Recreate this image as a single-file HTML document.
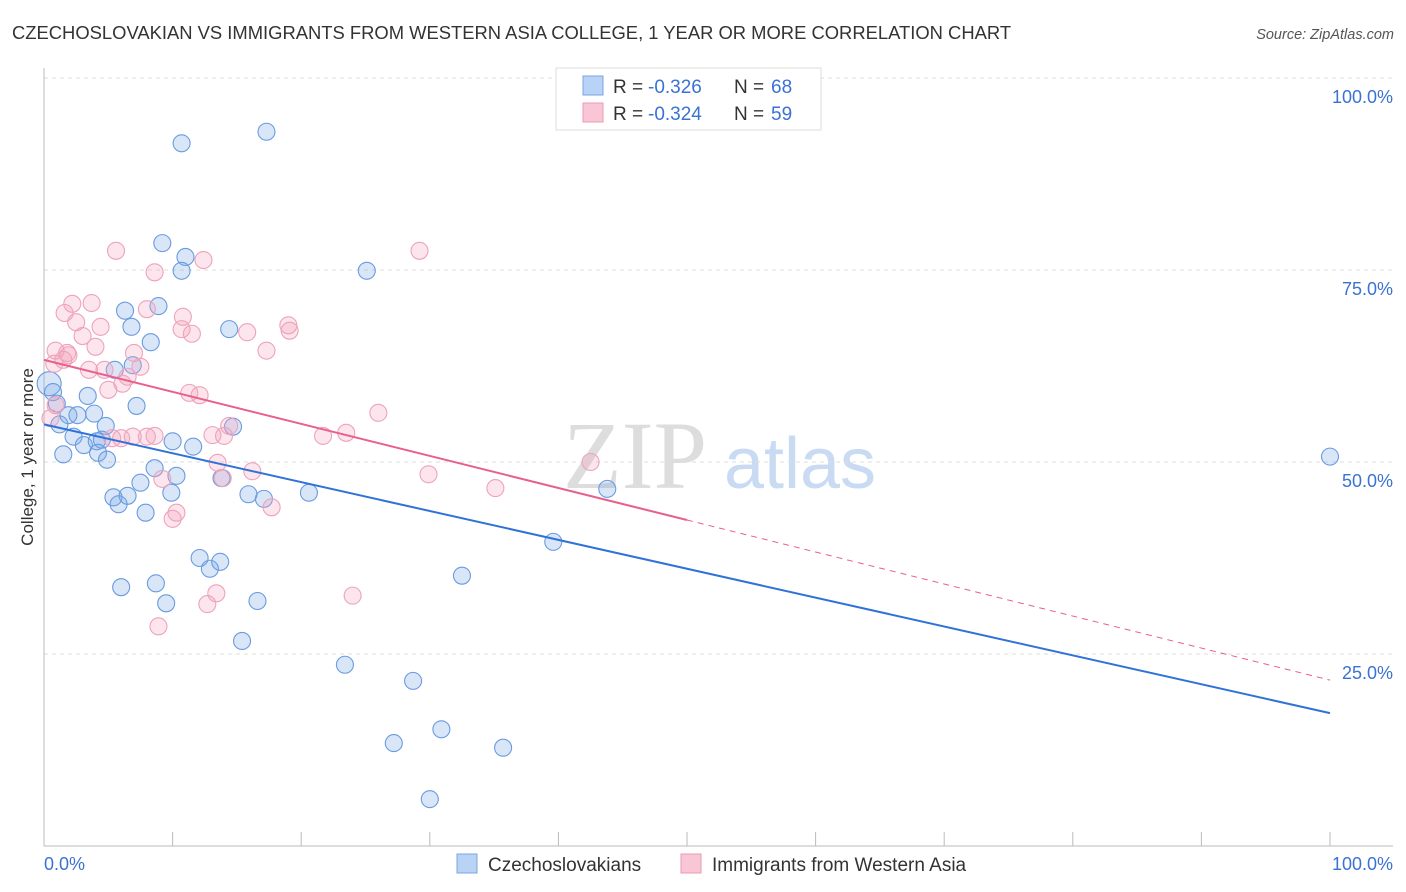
<!DOCTYPE html>
<html><head><meta charset="utf-8"><style>
body{margin:0;background:#fff;font-family:"Liberation Sans",sans-serif}
svg{display:block}
</style></head><body>
<svg id="chart" width="1406" height="892">
<text x="12" y="39" font-size="18.4" fill="#333">CZECHOSLOVAKIAN VS IMMIGRANTS FROM WESTERN ASIA COLLEGE, 1 YEAR OR MORE CORRELATION CHART</text>
<text x="1394" y="39" font-size="14.5" fill="#555" font-style="italic" text-anchor="end">Source: ZipAtlas.com</text>
<text x="635" y="488" font-size="96" fill="#ddd" font-family="Liberation Serif,serif" text-anchor="middle">ZIP</text>
<text x="800" y="488" font-size="72" fill="#c9daf3" text-anchor="middle">atlas</text>
<g id="grid"></g>
<g id="axes"></g>
<g id="marks"></g>
<text transform="translate(33,457) rotate(-90)" font-size="17" fill="#333" text-anchor="middle">College, 1 year or more</text>
<g>
<rect x="556" y="68" width="265" height="62" fill="#fff" stroke="#ddd"/>
<rect x="583" y="76" width="20" height="19" fill="#b8d3f5" stroke="#7aa6e2"/>
<rect x="583" y="103" width="20" height="19" fill="#f9c6d6" stroke="#ec9ab4"/>
<text x="613" y="93" font-size="19" fill="#333">R =</text>
<text x="648" y="93" font-size="19" fill="#3a72d4">-0.326</text>
<text x="734" y="93" font-size="19" fill="#333">N =</text>
<text x="771" y="93" font-size="19" fill="#3a72d4">68</text>
<text x="613" y="120" font-size="19" fill="#333">R =</text>
<text x="648" y="120" font-size="19" fill="#3a72d4">-0.324</text>
<text x="734" y="120" font-size="19" fill="#333">N =</text>
<text x="771" y="120" font-size="19" fill="#3a72d4">59</text>
</g>
<g>
<rect x="457" y="854" width="20" height="19" fill="#b8d3f5" stroke="#7aa6e2"/>
<text x="488" y="871" font-size="19" fill="#333">Czechoslovakians</text>
<rect x="681" y="854" width="20" height="19" fill="#f9c6d6" stroke="#ec9ab4"/>
<text x="712" y="871" font-size="19" fill="#333">Immigrants from Western Asia</text>
</g>
</svg>
<script>
const blueX=[10.7,17.3,9.2,11.0,10.7,25.1,6.3,8.9,6.8,14.4,8.3,5.5,6.9,0.4,0.7,1.0,3.4,7.2,1.9,2.6,3.9,1.2,2.3,4.8,14.7,3.1,4.1,4.5,10.0,1.5,4.2,4.9,11.6,8.6,10.3,13.8,7.5,5.4,6.5,9.9,15.9,17.1,20.6,5.8,7.9,43.8,39.6,12.1,12.9,13.7,6.0,8.7,9.5,16.6,32.5,15.4,23.4,28.7,27.2,30.9,35.7,30.0,100.0];
const blueY=[91.5,93.0,78.5,76.7,74.9,74.9,69.7,70.3,67.6,67.3,65.6,62.0,62.6,60.2,59.1,57.6,58.6,57.3,56.1,56.1,56.3,54.9,53.3,54.7,54.6,52.2,52.7,52.9,52.7,51.0,51.2,50.3,52.0,49.2,48.2,47.9,47.3,45.4,45.6,46.0,45.8,45.2,46.0,44.5,43.4,46.5,39.6,37.5,36.1,37.0,33.7,34.2,31.6,31.9,35.2,26.7,23.6,21.5,13.4,15.2,12.8,6.1,50.7];
const pinkX=[5.6,29.2,8.6,12.4,2.2,3.7,1.6,8.0,2.5,4.4,3.0,10.8,10.7,11.5,19.0,19.1,15.8,0.9,1.8,4.0,0.8,1.5,1.9,17.3,7.0,7.5,3.5,4.7,6.5,5.0,6.1,11.3,12.1,0.9,0.5,6.9,8.6,8.0,5.3,6.0,14.0,13.1,14.4,21.7,23.5,26.0,13.5,16.2,13.9,9.2,10.3,10.0,17.7,29.9,35.1,42.5,13.4,12.7,24.0,8.9];
const pinkY=[77.5,77.5,74.7,76.3,70.6,70.7,69.4,69.9,68.2,67.6,66.4,68.9,67.3,66.7,67.8,67.1,66.9,64.5,64.2,65.0,62.8,63.3,63.9,64.5,64.2,62.4,62.0,62.0,61.1,59.4,60.2,59.0,58.7,57.4,55.7,53.3,53.4,53.3,53.1,53.1,53.4,53.5,54.7,53.4,53.8,56.4,49.9,48.8,47.9,47.8,43.4,42.6,44.1,48.4,46.6,50.0,32.9,31.5,32.6,28.6];
const yTicks=[25,50,75,100];
const yTickLabels=["25.0%","50.0%","75.0%","100.0%"];
const blueFit=[54.9,17.3];
const pinkFit=[63.3,21.6];
const NS="http://www.w3.org/2000/svg";
const sx=v=>44+v*12.86, sy=v=>846-v*7.68;
function mk(tag,attrs,parent){const e=document.createElementNS(NS,tag);for(const k in attrs)e.setAttribute(k,attrs[k]);document.getElementById(parent).appendChild(e);return e;}
yTicks.forEach((t,i)=>{
 const g=mk('line',{x1:44,x2:1393,y1:sy(t),y2:sy(t),stroke:'#ddd','stroke-dasharray':'4,4'},'grid');
 
 
 const l=mk('text',{x:1393,y:sy(t)+25,'font-size':18,fill:'#3a72d4','text-anchor':'end'},'axes');
 l.textContent=yTickLabels[i];
 
 
});
let a=mk('line',{x1:44,x2:44,y1:68,y2:846,stroke:'#bbb'},'axes');


a=mk('line',{x1:44,x2:1393,y1:846,y2:846,stroke:'#bbb'},'axes');


for(let i=0;i<=10;i++){const t=mk('line',{x1:sx(i*10),x2:sx(i*10),y1:832,y2:846,stroke:'#bbb'},'axes');
 
 }
let xl=mk('text',{x:44,y:870,'font-size':18,fill:'#3a72d4'},'axes');xl.textContent='0.0%';


xl=mk('text',{x:1393,y:870,'font-size':18,fill:'#3a72d4','text-anchor':'end'},'axes');xl.textContent='100.0%';


blueX.forEach((x,i)=>{const c=mk('circle',{cx:sx(x),cy:sy(blueY[i]),r:(i==13?12:8.5),fill:'rgba(120,165,230,0.28)',stroke:'#6a9be0','stroke-width':1.1},'marks');
 
 });
pinkX.forEach((x,i)=>{const c=mk('circle',{cx:sx(x),cy:sy(pinkY[i]),r:8.5,fill:'rgba(245,160,185,0.28)',stroke:'#eea3bb','stroke-width':1.1},'marks');
 
 });
let ln=mk('line',{x1:sx(0),y1:sy(blueFit[0]),x2:sx(100),y2:sy(blueFit[1]),stroke:'#2f72d8','stroke-width':2},'marks');


const pm=pinkFit[0]+(pinkFit[1]-pinkFit[0])*0.5;
ln=mk('line',{x1:sx(0),y1:sy(pinkFit[0]),x2:sx(50),y2:sy(pm),stroke:'#e8608c','stroke-width':2},'marks');


ln=mk('line',{x1:sx(50),y1:sy(pm),x2:sx(100),y2:sy(pinkFit[1]),stroke:'#e8608c','stroke-width':1,'stroke-dasharray':'6,5'},'marks');


</script>
</body></html>
